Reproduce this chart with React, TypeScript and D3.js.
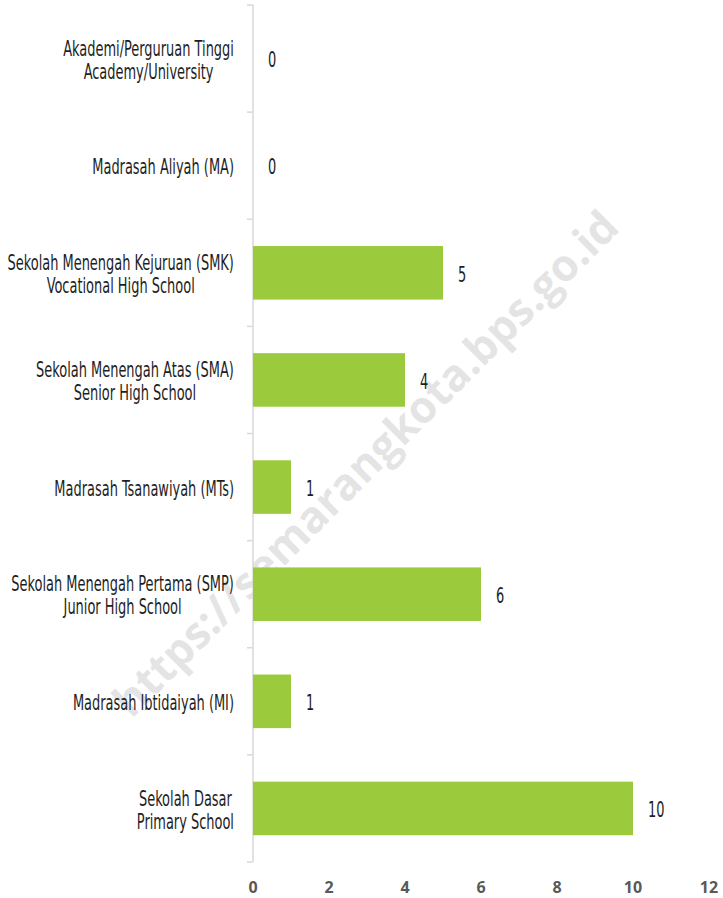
import React, { useLayoutEffect, useRef, useState } from "react";
import * as d3 from "d3";

const categories: string[][] = [
  ["Akademi/Perguruan Tinggi", "Academy/University"],
  ["Madrasah Aliyah (MA)"],
  ["Sekolah Menengah Kejuruan (SMK)", "Vocational High School"],
  ["Sekolah Menengah Atas (SMA)", "Senior High School"],
  ["Madrasah Tsanawiyah (MTs)"],
  ["Sekolah Menengah Pertama (SMP)", "Junior High School"],
  ["Madrasah Ibtidaiyah (MI)"],
  ["Sekolah Dasar", "Primary School"],
];
const values: number[] = [0, 0, 5, 4, 1, 6, 1, 10];
const xTicks: number[] = [0, 2, 4, 6, 8, 10, 12];
const watermark = "https://semarangkota.bps.go.id";

const W = 723;
const H = 898;
const left = 253;
const right = 709;
const top = 5;
const bottom = 862;
const labelRight = 234;
const condensed = "'Liberation Sans Narrow', 'DejaVu Sans Condensed', sans-serif";
const fs = 22;
const sx = 0.655;

export default function App() {
  const svgRef = useRef<SVGSVGElement>(null);
  const [widths, setWidths] = useState<number[][] | null>(null);

  useLayoutEffect(() => {
    if (!svgRef.current) return;
    const ws = categories.map((lines, i) =>
      lines.map((_, j) => {
        const el = svgRef.current!.querySelector(`#m-${i}-${j}`) as SVGTextElement | null;
        return el ? el.getComputedTextLength() * sx : 0;
      })
    );
    setWidths(ws);
  }, []);

  const x = d3.scaleLinear().domain([0, 12]).range([left, right]);
  const idx = categories.map((_, i) => String(i));
  const y = d3.scaleBand().domain(idx).range([top, bottom]).paddingInner(0.5).paddingOuter(0.25);
  const band = (bottom - top) / categories.length;
  const boundaries = d3.range(categories.length + 1).map((i) => top + i * band);

  return (
    <svg ref={svgRef} width={W} height={H} style={{ position: "absolute", left: 0, top: 0, background: "#fff" }}>
      {!widths && (
        <g visibility="hidden">
          {categories.map((lines, i) =>
            lines.map((l, j) => (
              <text key={`${i}-${j}`} id={`m-${i}-${j}`} fontFamily={condensed} fontSize={fs}>
                {l}
              </text>
            ))
          )}
        </g>
      )}
      {/* watermark */}
      <text
        transform={`translate(368,466) rotate(-45)`}
        textAnchor="middle"
        dominantBaseline="middle"
        fontFamily="'Open Sans', Arial, sans-serif"
        fontWeight="bold"
        fontSize={44}
        fill="#000"
        opacity={0.1}
      >
        {watermark}
      </text>
      {/* axis line */}
      <line x1={left} x2={left} y1={top} y2={bottom} stroke="#d9d9d9" strokeWidth={1.5} />
      {boundaries.map((b, i) => (
        <line key={i} x1={left - 6} x2={left} y1={b} y2={b} stroke="#d9d9d9" strokeWidth={1.5} />
      ))}
      {/* bars */}
      {values.map((v, i) => (
        <rect key={i} x={x(0)} y={y(String(i))!} width={x(v) - x(0)} height={y.bandwidth()} fill="#9BCB3C" />
      ))}
      {/* value labels */}
      {values.map((v, i) => {
        const cy = y(String(i))! + y.bandwidth() / 2;
        return (
          <g key={i} transform={`translate(${x(v) + 15},${cy + 1}) scale(${sx},1)`}>
            <text x={0} y={0} dominantBaseline="central" fontFamily={condensed} fontSize={fs} fill="#1e1e1e">
              {v}
            </text>
          </g>
        );
      })}
      {/* category labels */}
      {widths &&
        categories.map((lines, i) => {
          const cy = y(String(i))! + y.bandwidth() / 2;
          const lh = 23;
          const start = cy + 1 - ((lines.length - 1) * lh) / 2;
          const maxW = Math.max(...widths[i]);
          const center = labelRight - maxW / 2;
          return (
            <g key={i}>
              {lines.map((l, j) => (
                <g
                  key={j}
                  transform={`translate(${lines.length > 1 ? center : labelRight},${start + j * lh}) scale(${sx},1)`}
                >
                  <text
                    x={0}
                    y={0}
                    textAnchor={lines.length > 1 ? "middle" : "end"}
                    dominantBaseline="central"
                    fontFamily={condensed}
                    fontSize={fs}
                    fill="#1e1e1e"
                  >
                    {l}
                  </text>
                </g>
              ))}
            </g>
          );
        })}
      {/* x tick labels */}
      {xTicks.map((t) => (
        <text
          key={t}
          x={x(t)}
          y={887}
          textAnchor="middle"
          dominantBaseline="central"
          fontFamily="'Open Sans', Arial, sans-serif"
          fontWeight="bold"
          fontSize={16}
          fill="#595959"
        >
          {t}
        </text>
      ))}
    </svg>
  );
}
